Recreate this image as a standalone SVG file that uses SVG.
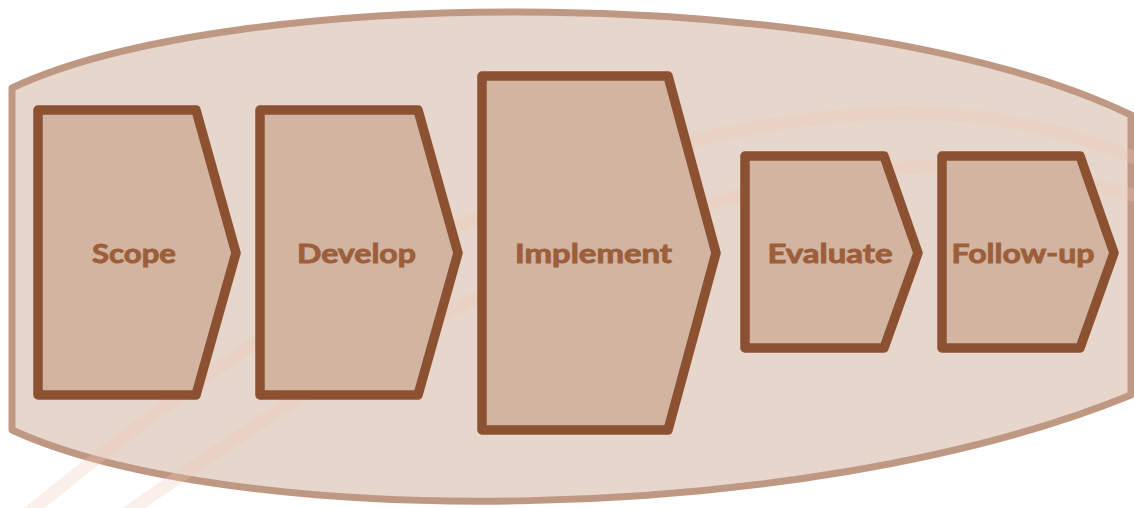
<svg xmlns="http://www.w3.org/2000/svg" width="1134" height="508" viewBox="0 0 1134 508">
<style>
.bg{fill:#e6d6cc;stroke:#bf9884;stroke-width:7;stroke-linejoin:round}
.band{fill:none;stroke:#f0c8b0;stroke-opacity:0.28;stroke-width:13}
.node{fill:#d2b4a0;stroke:#8b5130;stroke-width:9.5;stroke-linejoin:round}
.lbl{font-family:Lato,"Open Sans","DejaVu Sans",sans-serif;font-weight:700;font-size:27px;fill:#9c5f3b;stroke:#9c5f3b;stroke-width:0.9;text-anchor:middle}
</style>
<g id="background">
<path class="bg" d="M12,88 C230,-15 850,-20 1131,115 L1131,395 C800,530 230,530 12,430 Z"/>
</g>
<g id="bands">
<path class="band" d="M20,520 C250,330 550,120 900,113 C1000,111 1080,135 1140,160"/>
<path class="band" d="M110,525 C300,390 600,190 900,168 C1000,161 1080,180 1140,197"/>
</g>
<g id="connectors"></g>
<g id="scope">
<path class="node" d="M38,110 L196,110 L236,253 L196,395 L38,395 Z"/>
<text class="lbl" x="134" y="263" textLength="84" lengthAdjust="spacingAndGlyphs">Scope</text>
</g>
<g id="develop">
<path class="node" d="M260,110 L418,110 L458,253 L418,395 L260,395 Z"/>
<text class="lbl" x="356.5" y="263" textLength="119" lengthAdjust="spacingAndGlyphs">Develop</text>
</g>
<g id="implement">
<path class="node" d="M482,76 L668,76 L716,253 L668,430 L482,430 Z"/>
<text class="lbl" x="593.5" y="263" textLength="157" lengthAdjust="spacingAndGlyphs">Implement</text>
</g>
<g id="evaluate">
<path class="node" d="M745,156 L884,156 L918,253 L884,348 L745,348 Z"/>
<text class="lbl" x="830" y="263" textLength="125" lengthAdjust="spacingAndGlyphs">Evaluate</text>
</g>
<g id="follow-up">
<path class="node" d="M942,156 L1080,156 L1114,253 L1080,348 L942,348 Z"/>
<text class="lbl" x="1023" y="263" textLength="143" lengthAdjust="spacingAndGlyphs">Follow-up</text>
</g>
</svg>
